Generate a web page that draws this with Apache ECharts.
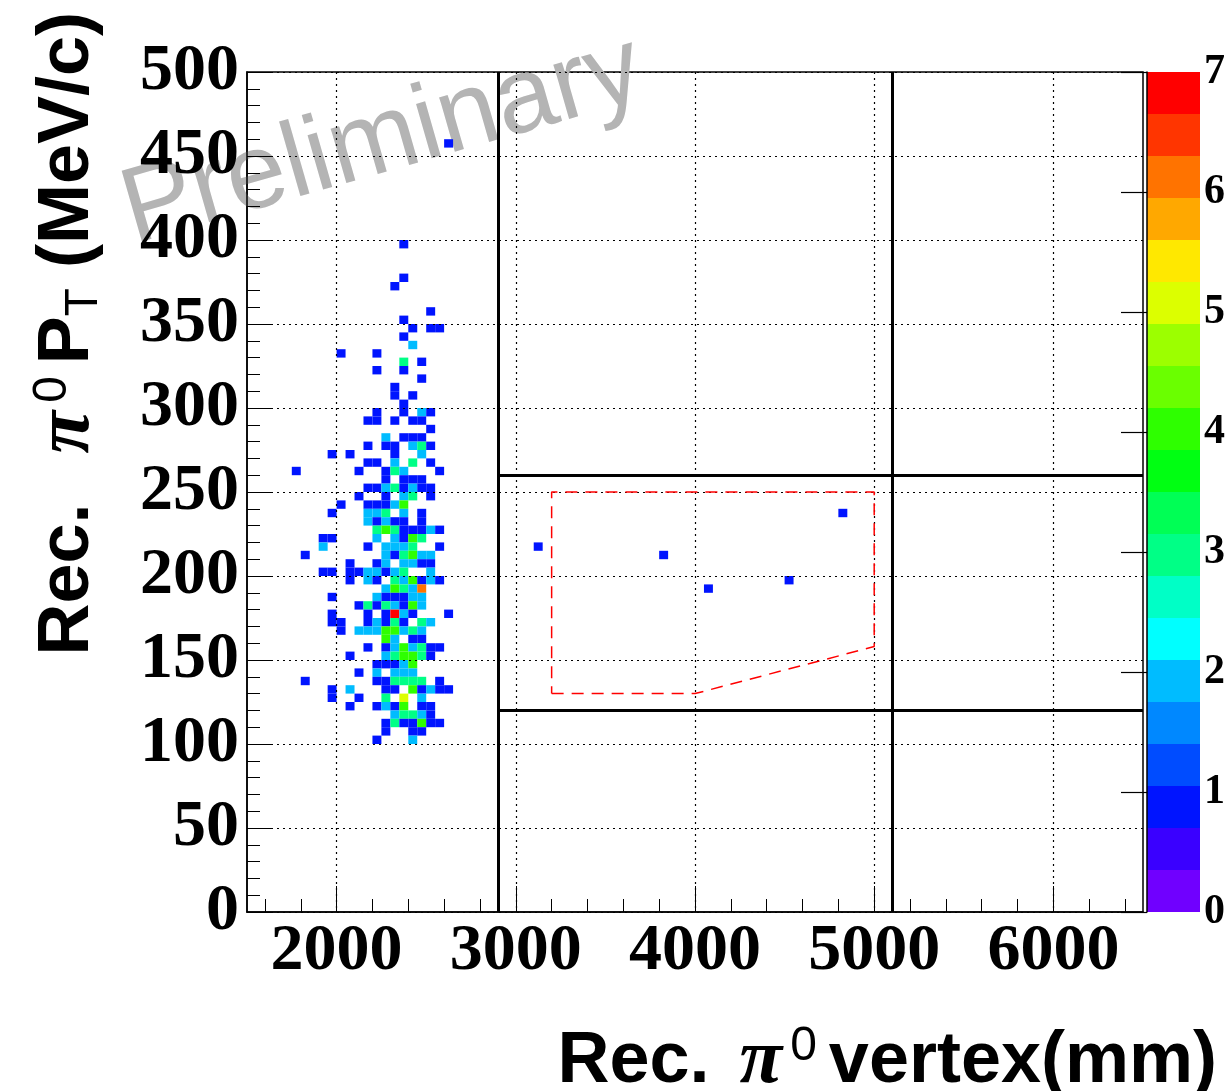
<!DOCTYPE html>
<html>
<head>
<meta charset="utf-8">
<title>Rec. pi0 PT vs vertex</title>
<script src="https://cdn.jsdelivr.net/npm/echarts@6.0.0/dist/echarts.min.js"></script>
<style>
  html, body { margin: 0; padding: 0; background: #fff; }
  #main { width: 1229px; height: 1091px; }
</style>
</head>
<body>
<div id="main"></div>
<script>
// bin size of the 2D histogram (mm, MeV/c)
var binX = 50, binY = 5;

// cluster rows: [pT bin low edge, [[vertex bin low edge, entries], ...]]
var clusterRows = [
  [455, [[2600,1]]],
  [395, [[2350,1]]],
  [375, [[2350,1]]],
  [370, [[2300,1]]],
  [355, [[2500,1]]],
  [350, [[2350,1]]],
  [345, [[2400,1],[2500,1],[2550,1]]],
  [340, [[2350,1]]],
  [335, [[2400,2]]],
  [330, [[2000,1],[2200,1]]],
  [325, [[2350,3],[2450,1]]],
  [320, [[2200,1],[2350,1]]],
  [315, [[2450,1]]],
  [310, [[2300,1]]],
  [305, [[2300,1],[2400,1]]],
  [300, [[2350,1]]],
  [295, [[2200,1],[2350,1],[2450,2],[2500,1]]],
  [290, [[2150,1],[2200,1],[2300,1],[2400,1],[2450,1]]],
  [285, [[2500,1]]],
  [280, [[2250,2],[2350,1],[2400,1],[2450,1]]],
  [275, [[2150,1],[2250,1],[2300,1],[2400,2],[2450,3],[2500,1]]],
  [270, [[1950,1],[2050,1],[2300,1],[2450,2]]],
  [265, [[2150,1],[2200,1],[2300,2],[2400,3],[2500,1]]],
  [260, [[1750,1],[2100,1],[2250,1],[2300,3],[2350,2],[2550,1]]],
  [255, [[2250,1],[2350,1],[2400,1],[2450,1]]],
  [250, [[2150,1],[2200,1],[2250,2],[2300,3],[2350,1],[2400,2],[2450,1],[2500,1]]],
  [245, [[2100,1],[2250,1],[2350,2],[2400,3],[2500,1]]],
  [240, [[2000,1],[2150,1],[2200,1],[2250,1],[2300,2],[2350,4]]],
  [235, [[1950,1],[2150,2],[2200,2],[2250,3],[2350,2],[2450,1]]],
  [230, [[2150,2],[2200,1],[2250,2],[2300,1],[2350,1],[2450,1]]],
  [225, [[2200,3],[2250,4],[2300,3],[2350,1],[2400,1],[2450,1],[2500,2],[2550,1]]],
  [220, [[1900,1],[1950,1],[2200,2],[2300,2],[2350,1],[2400,4],[2450,3]]],
  [215, [[1900,2],[2150,1],[2250,2],[2300,2],[2350,2],[2400,3],[2550,1]]],
  [210, [[1800,1],[2250,2],[2300,1],[2350,3],[2400,4],[2450,2],[2500,2]]],
  [205, [[2050,1],[2200,1],[2250,2],[2350,2],[2400,2],[2450,1],[2500,1]]],
  [200, [[1900,1],[1950,1],[2050,1],[2100,1],[2150,2],[2200,2],[2250,1],[2300,2],[2350,3],[2500,2]]],
  [195, [[2050,1],[2150,2],[2200,1],[2300,3],[2350,2],[2400,4],[2450,1],[2500,2],[2550,1]]],
  [190, [[2250,2],[2300,4],[2350,3],[2400,2],[2450,6]]],
  [185, [[1950,1],[2200,2],[2250,1],[2300,1],[2350,1],[2400,2],[2450,2]]],
  [180, [[2100,1],[2150,3],[2200,1],[2250,3],[2300,2],[2350,1],[2400,4],[2450,2]]],
  [175, [[1950,1],[2150,1],[2250,1],[2300,7],[2350,2],[2400,1],[2600,1]]],
  [170, [[1950,1],[2000,1],[2150,1],[2200,2],[2250,1],[2300,3],[2350,1],[2450,3],[2500,2]]],
  [165, [[2000,1],[2100,2],[2150,2],[2200,2],[2250,4],[2300,4],[2350,2],[2400,3],[2450,2]]],
  [160, [[2250,4],[2300,2],[2400,1],[2450,1]]],
  [155, [[2150,1],[2250,1],[2300,2],[2350,4],[2400,2],[2450,3],[2500,1],[2550,1]]],
  [150, [[2050,1],[2250,2],[2300,3],[2350,4],[2400,4],[2450,3],[2500,1]]],
  [145, [[2200,1],[2250,1],[2300,1],[2350,2],[2400,4]]],
  [140, [[2100,1],[2200,2],[2300,2],[2350,2],[2400,2]]],
  [135, [[1800,1],[2200,1],[2250,1],[2300,3],[2350,3],[2400,3],[2450,3],[2550,1]]],
  [130, [[1950,1],[2050,2],[2250,1],[2300,1],[2400,4],[2450,1],[2500,2],[2550,1],[2600,1]]],
  [125, [[1950,1],[2100,1],[2250,3],[2350,5],[2450,2]]],
  [120, [[2050,1],[2200,1],[2250,2],[2300,1],[2350,4],[2450,1],[2500,1]]],
  [115, [[2300,2],[2350,3],[2400,3],[2450,2],[2500,1]]],
  [110, [[2250,1],[2300,3],[2350,1],[2400,1],[2450,4],[2500,1],[2550,1]]],
  [105, [[2250,1],[2400,1],[2450,1]]],
  [100, [[2200,1],[2400,2]]]
];

// events inside the middle region: [vertex low edge, pT low edge, entries]
var regionCells = [[3100,215,1],[3800,210,1],[4050,190,1],[4500,195,1],[4800,235,1]];

// region boundaries
var vetoZ = [2900, 5100];
var vetoPt = [120, 260];
var signalBox = [[3200,130],[4000,130],[5000,158],[5000,250],[3200,250],[3200,130]];

// axis ticks
var xMajor = [2000, 3000, 4000, 5000, 6000];
var xMinor = [1600,1800,2200,2400,2600,2800,3200,3400,3600,3800,4200,4400,4600,4800,5200,5400,5600,5800,6200,6400];

// colour palette (20 contours from 0 to 7)
var paletteColors = ['#7000ff','#3a00ff','#0014ff','#004cff','#0088ff','#00bcff','#00ffff','#00ffc6','#00ff86','#00ff55',
                     '#00ff12','#2eff00','#6aff00','#9cff00','#dcff00','#ffe800','#ffa800','#ff7300','#ff3500','#ff0000'];
var zMax = 7;

var cells = [];
clusterRows.forEach(function (row) {
  row[1].forEach(function (c) { cells.push([c[0], row[0], c[1]]); });
});
regionCells.forEach(function (c) { cells.push(c); });

var step = zMax / paletteColors.length;
function bandColor(v) {
  var i = Math.floor(v / step + 1e-9);
  if (i > paletteColors.length - 1) i = paletteColors.length - 1;
  if (i < 0) i = 0;
  return paletteColors[i];
}
var bands = paletteColors.map(function (c, i) { return [i * step, (i + 1) * step, i]; });

var lineData = [];
vetoZ.forEach(function (z) { lineData.push({ coords: [[z, 0], [z, 500]] }); });
vetoPt.forEach(function (p) { lineData.push({ coords: [[vetoZ[0], p], [6500, p]] }); });

var serif = 'Liberation Serif';
var sans = 'Liberation Sans';
function plain(v) { return String(v); }

var titleRich = {
  r: { fontFamily: sans, fontWeight: 'bold', fontSize: 72, fill: '#000' },
  pi: { fontFamily: serif, fontStyle: 'italic', fontWeight: 'bold', fontSize: 78, fill: '#000', padding: [0, 8, 0, 10] },
  sup: { fontFamily: sans, fontSize: 48, fill: '#000', verticalAlign: 'top', padding: [0, 12, 0, 0] },
  sub: { fontFamily: sans, fontSize: 46, fill: '#000', verticalAlign: 'bottom' }
};

var myChart = echarts.init(document.getElementById('main'));
var option = {
  backgroundColor: '#fff',
  animation: false,
  grid: [
    { left: 247, top: 72, width: 896, height: 840, show: true, borderColor: '#000', borderWidth: 1.5 },
    { left: 1147, top: 72, width: 53, height: 840 }
  ],
  xAxis: [
    {
      gridIndex: 0, type: 'value', min: 1500, max: 6500, z: 5,
      axisLine: { show: true, lineStyle: { color: '#000', width: 1.5 } },
      axisTick: { show: true, inside: true, length: 26, customValues: xMajor, lineStyle: { color: '#000', width: 1 } },
      axisLabel: { show: true, customValues: xMajor, formatter: plain, margin: 7, color: '#000', fontFamily: serif, fontWeight: 'bold', fontSize: 66 },
      splitLine: { show: true, lineStyle: { color: '#000', width: 1.2, type: [2, 4] } }
    },
    {
      gridIndex: 0, type: 'value', min: 1500, max: 6500, position: 'bottom', z: 5,
      axisLine: { show: false },
      axisTick: { show: true, inside: true, length: 13, customValues: xMinor, lineStyle: { color: '#000', width: 1 } },
      axisLabel: { show: false },
      splitLine: { show: false }
    },
    { gridIndex: 1, type: 'value', min: 0, max: 1, show: false }
  ],
  yAxis: [
    {
      gridIndex: 0, type: 'value', min: 0, max: 500, interval: 50, z: 5,
      axisLine: { show: true, lineStyle: { color: '#000', width: 1.5 } },
      axisTick: { show: true, inside: true, length: 26, lineStyle: { color: '#000', width: 1 } },
      minorTick: { show: true, splitNumber: 5, length: 13, lineStyle: { color: '#000', width: 1 } },
      axisLabel: { margin: 8, formatter: plain, color: '#000', fontFamily: serif, fontWeight: 'bold', fontSize: 66 },
      splitLine: { show: true, lineStyle: { color: '#000', width: 1.2, type: [2, 4] } }
    },
    {
      gridIndex: 1, type: 'value', min: 0, max: zMax, interval: 1, position: 'right', z: 5,
      axisLine: { show: true, lineStyle: { color: '#000', width: 1.5 } },
      axisTick: { show: true, inside: true, length: 26, lineStyle: { color: '#000', width: 1.2 } },
      axisLabel: { margin: 4, color: '#000', fontFamily: serif, fontWeight: 'bold', fontSize: 42 },
      splitLine: { show: false }
    }
  ],
  series: [
    {
      type: 'custom',
      xAxisIndex: 0, yAxisIndex: 0,
      clip: true,
      data: cells,
      encode: { x: 0, y: 1 },
      renderItem: function (params, api) {
        var x0 = api.value(0), y0 = api.value(1), n = api.value(2);
        var p0 = api.coord([x0, y0 + binY]);
        var p1 = api.coord([x0 + binX, y0]);
        return {
          type: 'rect',
          shape: { x: p0[0], y: p0[1], width: p1[0] - p0[0], height: p1[1] - p0[1] },
          style: { fill: bandColor(n) }
        };
      }
    },
    {
      type: 'lines',
      coordinateSystem: 'cartesian2d',
      xAxisIndex: 0, yAxisIndex: 0,
      z: 6,
      lineStyle: { color: '#000', width: 3, opacity: 1 },
      data: lineData
    },
    {
      type: 'line',
      xAxisIndex: 0, yAxisIndex: 0,
      z: 7,
      symbol: 'none',
      lineStyle: { color: '#ff0000', width: 1.5, type: [12, 8] },
      data: signalBox
    },
    {
      // colour scale
      type: 'custom',
      xAxisIndex: 2, yAxisIndex: 1,
      data: bands,
      renderItem: function (params, api) {
        var lo = api.value(0), hi = api.value(1), i = api.value(2);
        var p0 = api.coord([0, hi]);
        var p1 = api.coord([1, lo]);
        return {
          type: 'rect',
          shape: { x: p0[0], y: p0[1], width: p1[0] - p0[0], height: p1[1] - p0[1] },
          style: { fill: paletteColors[i] }
        };
      }
    }
  ],
  graphic: [
    {
      type: 'text', x: 140, y: 267, rotation: 16 * Math.PI / 180, z: 1,
      style: {
        text: 'Preliminary', fill: '#b4b4b4',
        font: 'normal 107px "Liberation Sans"',
        align: 'left', verticalAlign: 'bottom', textAlign: 'left', textVerticalAlign: 'bottom'
      }
    },
    {
      type: 'text', x: 1217, y: 1062, z: 20,
      style: {
        text: '{r|Rec. }{pi|π}{sup|0}{r|vertex(mm)}',
        fill: '#000',
        align: 'right', verticalAlign: 'middle', textAlign: 'right', textVerticalAlign: 'middle',
        rich: titleRich
      }
    },
    {
      type: 'text', x: 68, y: 12, rotation: Math.PI / 2, z: 20,
      style: {
        text: '{r|Rec.  }{pi|π}{sup|0}{r|P}{sub|T}{r| (MeV/c)}',
        fill: '#000',
        align: 'right', verticalAlign: 'middle', textAlign: 'right', textVerticalAlign: 'middle',
        rich: titleRich
      }
    }
  ]
};
myChart.setOption(option);
</script>
</body>
</html>
